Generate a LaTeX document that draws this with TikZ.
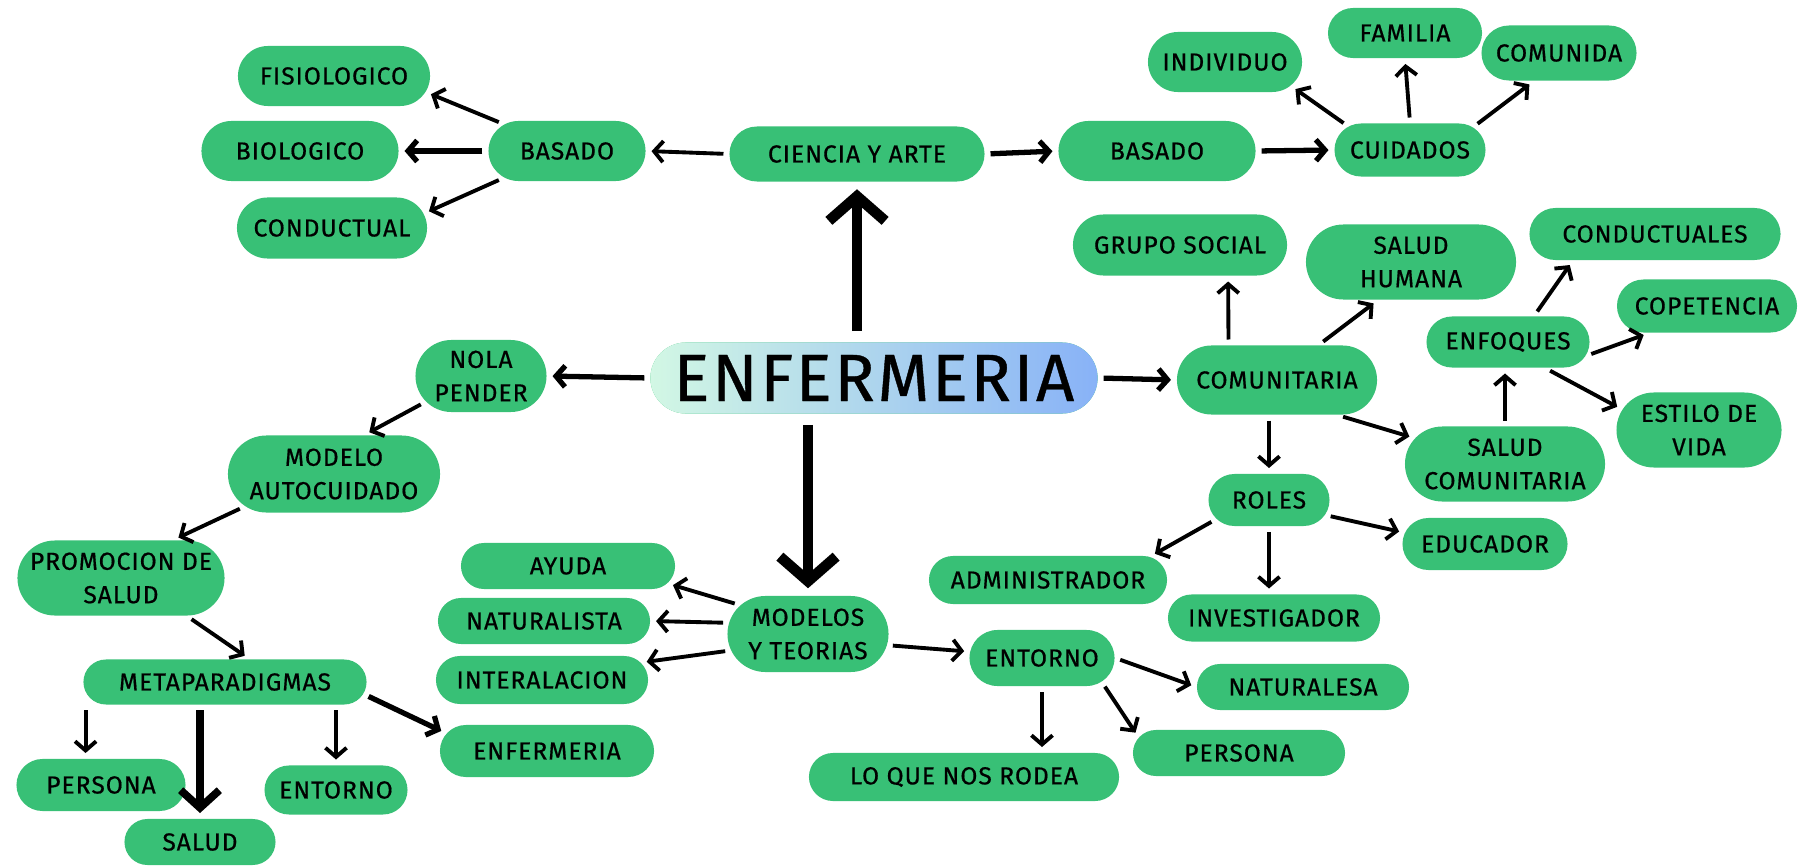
\documentclass[tikz,border=0pt]{standalone}
\usepackage{fontspec}
\setmainfont{Fira Sans}[LetterSpace=4, FakeBold=0.6]
\usetikzlibrary{arrows.meta}
\usetikzlibrary{shapes.misc}
\definecolor{boxgreen}{RGB}{56,192,118}
\definecolor{mintc}{RGB}{210,247,228}
\definecolor{skyc}{RGB}{136,178,247}
\newcommand{\boxfont}{\fontsize{7}{9.5}\selectfont}
\newcommand{\titlefont}{\fontsize{19}{22}\selectfont}
\tikzset{
  pill/.style={rounded rectangle, fill=boxgreen, align=center,
    inner sep=1pt, font=\boxfont},
  link/.style={line width=1.1pt, -{Straight Barb[length=2.6pt,width=6pt]},
    shorten >=1.5pt, shorten <=1.5pt},
  midlink/.style={line width=2.2pt, -{Straight Barb[length=5pt,width=11pt]},
    shorten >=1.5pt, shorten <=1.5pt},
  biglink/.style={line width=3pt, -{Straight Barb[length=7pt,width=16pt]},
    shorten >=2pt, shorten <=3pt},
}

\begin{document}
\begin{tikzpicture}[x=0.01cm, y=-0.01cm]
    \useasboundingbox (0,0) rectangle (1803,867);
    % center
    \node[pill, left color=mintc, right color=skyc,
      minimum width=4.54cm, minimum height=0.71cm, font=\titlefont] (enf) at (874,378) {ENFERMERIA};
    % ciencia y arte part
    \node[pill, minimum width=2.62cm, minimum height=0.55cm] (ciencia) at (857,154) {CIENCIA Y ARTE};
    \node[pill, minimum width=1.64cm, minimum height=0.60cm] (basadoL) at (567,151) {BASADO};
    \node[pill, minimum width=1.99cm, minimum height=0.60cm] (fisio) at (334,76) {FISIOLOGICO};
    \node[pill, minimum width=2.04cm, minimum height=0.60cm] (bio) at (300,151) {BIOLOGICO};
    \node[pill, minimum width=1.97cm, minimum height=0.61cm] (conduc) at (332,228) {CONDUCTUAL};
    \node[pill, minimum width=2.04cm, minimum height=0.60cm] (basadoR) at (1157,151) {BASADO};
    \node[pill, minimum width=1.58cm, minimum height=0.53cm] (cuidados) at (1410,150) {CUIDADOS};
    \node[pill, minimum width=1.61cm, minimum height=0.60cm] (individuo) at (1225,62) {INDIVIDUO};
    \node[pill, minimum width=1.61cm, minimum height=0.50cm] (familia) at (1405,33) {FAMILIA};
    \node[pill, minimum width=1.62cm, minimum height=0.55cm] (comunida) at (1559,53) {COMUNIDA};
    % nola pender part
    \node[pill, minimum width=1.38cm, minimum height=0.72cm] (nola) at (481,376) {NOLA\\PENDER};
    \node[pill, minimum width=2.19cm, minimum height=0.77cm] (modelo) at (334,474) {MODELO\\AUTOCUIDADO};
    \node[pill, minimum width=2.14cm, minimum height=0.75cm] (promo) at (121,578) {PROMOCION DE\\SALUD};
    \node[pill, minimum width=2.90cm, minimum height=0.45cm] (meta) at (225,682) {METAPARADIGMAS};
    \node[pill, minimum width=1.76cm, minimum height=0.52cm] (personaL) at (101,785) {PERSONA};
    \node[pill, minimum width=1.58cm, minimum height=0.46cm] (salud) at (200,842) {SALUD};
    \node[pill, minimum width=1.50cm, minimum height=0.49cm] (entornoL) at (336,790) {ENTORNO};
    \node[pill, minimum width=2.21cm, minimum height=0.52cm] (enfsmall) at (547,751) {ENFERMERIA};
    % modelos part
    \node[pill, minimum width=1.68cm, minimum height=0.76cm] (modelos) at (808,634) {MODELOS\\Y TEORIAS};
    \node[pill, minimum width=2.21cm, minimum height=0.46cm] (ayuda) at (568,566) {AYUDA};
    \node[pill, minimum width=2.19cm, minimum height=0.46cm] (natur) at (544,621) {NATURALISTA};
    \node[pill, minimum width=2.19cm, minimum height=0.48cm] (inter) at (542,680) {INTERALACION};
    \node[pill, minimum width=1.52cm, minimum height=0.56cm] (entornoM) at (1042,658) {ENTORNO};
    \node[pill, minimum width=2.19cm, minimum height=0.46cm] (naturalesa) at (1303,687) {NATURALESA};
    \node[pill, minimum width=2.19cm, minimum height=0.46cm] (personaM) at (1239,753) {PERSONA};
    \node[pill, minimum width=3.17cm, minimum height=0.48cm] (loque) at (964,777) {LO QUE NOS RODEA};
    % comunitaria part
    \node[pill, minimum width=2.07cm, minimum height=0.69cm] (comunitaria) at (1277,380) {COMUNITARIA};
    \node[pill, minimum width=2.21cm, minimum height=0.61cm] (grupo) at (1180,245) {GRUPO SOCIAL};
    \node[pill, minimum width=2.17cm, minimum height=0.75cm] (saludH) at (1411,262) {SALUD\\HUMANA};
    \node[pill, minimum width=1.70cm, minimum height=0.51cm] (enfoques) at (1508,342) {ENFOQUES};
    \node[pill, minimum width=2.58cm, minimum height=0.52cm] (conductuales) at (1655,234) {CONDUCTUALES};
    \node[pill, minimum width=1.87cm, minimum height=0.53cm] (copetencia) at (1707,306) {COPETENCIA};
    \node[pill, minimum width=1.72cm, minimum height=0.75cm] (estilo) at (1699,430) {ESTILO DE\\VIDA};
    \node[pill, minimum width=2.07cm, minimum height=0.75cm] (saludC) at (1505,464) {SALUD\\COMUNITARIA};
    \node[pill, minimum width=1.28cm, minimum height=0.52cm] (roles) at (1269,500) {ROLES};
    \node[pill, minimum width=1.72cm, minimum height=0.52cm] (educador) at (1485,544) {EDUCADOR};
    \node[pill, minimum width=2.45cm, minimum height=0.48cm] (admin) at (1048,580) {ADMINISTRADOR};
    \node[pill, minimum width=2.19cm, minimum height=0.47cm] (investig) at (1274,618) {INVESTIGADOR};

    % arrows from the center
    \draw[biglink] (enf.north -| ciencia.south) -- (ciencia.south);
    \draw[biglink] (enf.south -| modelos.north) -- (modelos.north);
    \draw[link, line width=1.5pt] (enf.west) -- (nola.east);
    \draw[link, line width=1.5pt] (enf.east) -- (comunitaria.west);
    % ciencia y arte arrows
    \draw[link] (ciencia.west) -- (basadoL.east);
    \draw[link, line width=1.5pt] (ciencia.east) -- (basadoR.west);
    \draw[link] (basadoL.157) -- (fisio.-10);
    \draw[link, line width=1.5pt] (basadoL.west) -- (bio.east);
    \draw[link] (basadoL.203) -- (conduc.9);
    \draw[link, line width=1.5pt] (basadoR.east) -- (cuidados.west);
    \draw[link] (cuidados.159) -- (individuo.-20);
    \draw[link] (cuidados.north) -- (familia.south);
    \draw[link] (cuidados.20) -- (comunida.228);
    % nola pender arrows
    \draw[link] (nola.205) -- (modelo.52);
    \draw[link] (modelo.200) -- (promo.36);
    \draw[link] (promo.-30) -- (meta.44);
    \draw[link] (personaL.120 |- meta.south) -- (personaL.120);
    \draw[midlink] (salud.north |- meta.south) -- (salud.north);
    \draw[link] (entornoL.north |- meta.south) -- (entornoL.north);
    \draw[link, line width=1.5pt] (meta.-5) -- (enfsmall.170);
    % modelos arrows
    \draw[link] (modelos.157) -- (ayuda.-10);
    \draw[link] (modelos.172) -- (natur.east);
    \draw[link] (modelos.192) -- (inter.10);
    \draw[link] (modelos.-8) -- (entornoM.175);
    \draw[link] (entornoM.east) -- (naturalesa.west);
    \draw[link] (entornoM.south) -- (entornoM.south |- loque.north);
    \draw[link] (entornoM.-22) -- (personaM.171);
    % comunitaria arrows
    \draw[link] (comunitaria.144) -- (grupo.-33);
    \draw[link] (comunitaria.40) -- (saludH.-131);
    \draw[link] (roles.north |- comunitaria.south) -- (roles.north);
    \draw[link] (comunitaria.-30) -- (saludC.164);
    \draw[link] (saludC.north) -- (saludC.north |- enfoques.south);
    \draw[link] (enfoques.45) -- (conductuales.198);
    \draw[link] (enfoques.-10) -- (copetencia.205);
    \draw[link] (enfoques.-35) -- (estilo.165);
    \draw[link] (roles.-15) -- (educador.172);
    \draw[link] (roles.200) -- (admin.13);
    \draw[link] (roles.south) -- (roles.south |- investig.north);
\end{tikzpicture}
\end{document}
